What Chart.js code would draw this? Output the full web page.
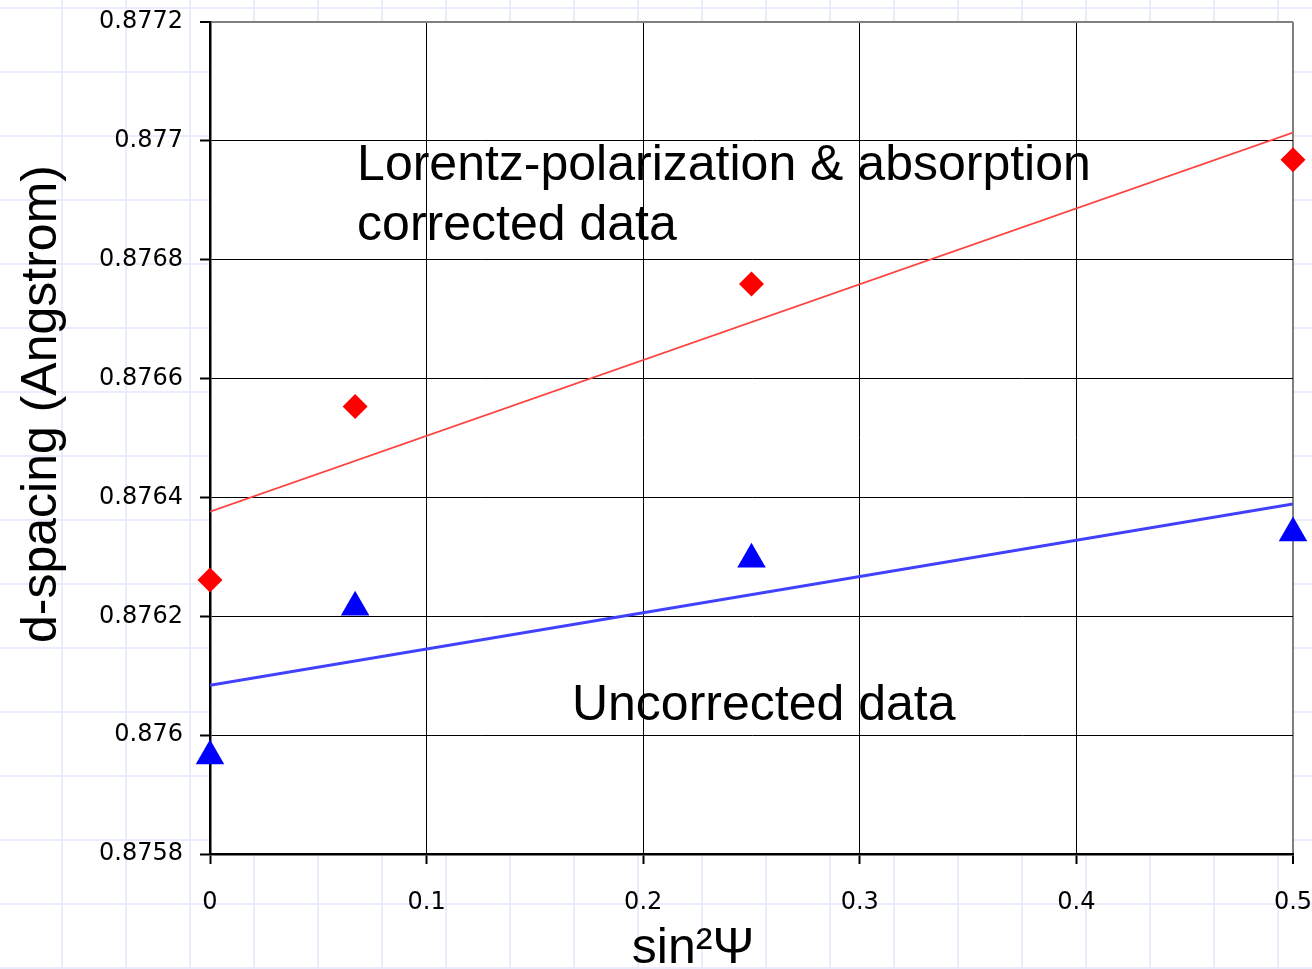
<!DOCTYPE html>
<html>
<head>
<meta charset="utf-8">
<title>d-spacing vs sin²Ψ</title>
<script src="https://cdn.jsdelivr.net/npm/chart.js@4.4.1/dist/chart.umd.min.js"></script>
<style>
  html, body { margin: 0; padding: 0; background: #fff; }
  canvas { display: block; }
</style>
</head>
<body>
<canvas id="chart" width="1312" height="969"></canvas>
<script>
// tilt positions, sin^2(psi) for psi = 0, 15, 30, 45 deg
const sin2psi = [0, 0.067, 0.25, 0.5];

// measured d-spacing (Angstrom)
const correctedD = [0.876261, 0.876553, 0.876759, 0.876968];
const uncorrectedD = [0.875965, 0.876215, 0.876296, 0.876340];

// straight-line fits, values at the two ends of the axis
const fitX = [0, 0.5];
const correctedFit = [0.876376, 0.877014];
const uncorrectedFit = [0.876084, 0.876389];

const xTickLabels = ['0', '0.1', '0.2', '0.3', '0.4', '0.5'];
const yTickLabels = ['0.8758', '0.876', '0.8762', '0.8764', '0.8766', '0.8768', '0.877', '0.8772'];

const toPoints = (xs, ys) => xs.map((x, i) => ({ x: x, y: ys[i] }));

const sansFont = '"Liberation Sans", Arial, sans-serif';
const tickFont = { family: '"DejaVu Sans", sans-serif', size: 24 };

// graph-paper backdrop behind the plot, plot area itself stays white
const paperBackground = {
  id: 'paperBackground',
  beforeDraw(chart) {
    const ctx = chart.ctx;
    const { width, height, chartArea } = chart;
    ctx.save();
    ctx.fillStyle = '#ffffff';
    ctx.fillRect(0, 0, width, height);
    ctx.strokeStyle = '#e8edfb';
    ctx.lineWidth = 2;
    ctx.beginPath();
    for (let x = -2; x < width; x += 64) {
      ctx.moveTo(x, 0);
      ctx.lineTo(x, height);
    }
    for (let y = 8; y < height; y += 64) {
      ctx.moveTo(0, y);
      ctx.lineTo(width, y);
    }
    ctx.stroke();
    ctx.fillStyle = '#ffffff';
    ctx.fillRect(chartArea.left, chartArea.top,
      chartArea.right - chartArea.left, chartArea.bottom - chartArea.top);
    ctx.restore();
  }
};

// series notes inside the plot + axis titles
const chartText = {
  id: 'chartText',
  afterDraw(chart, args, opts) {
    const ctx = chart.ctx;
    const xs = chart.scales.x;
    const ys = chart.scales.y;
    ctx.save();
    ctx.fillStyle = '#000';
    ctx.textBaseline = 'alphabetic';
    ctx.textAlign = 'left';
    ctx.font = '50px ' + sansFont;
    opts.notes.forEach(n => {
      ctx.fillText(n.text, xs.getPixelForValue(n.x), ys.getPixelForValue(n.y));
    });

    ctx.textAlign = 'center';
    ctx.fillText('sin²Ψ', 693, 963);

    ctx.translate(56, 404);
    ctx.rotate(-Math.PI / 2);
    ctx.fillText('d-spacing (Angstrom)', 0, 0);
    ctx.restore();
  }
};

new Chart(document.getElementById('chart'), {
  type: 'scatter',
  data: {
    datasets: [
      {
        label: 'Lorentz-polarization & absorption corrected',
        data: toPoints(sin2psi, correctedD),
        pointStyle: 'rectRot',
        pointRadius: 12.5,
        backgroundColor: '#ff0000',
        borderColor: '#ff0000',
        borderWidth: 0,
        clip: false
      },
      {
        label: 'Uncorrected',
        data: toPoints(sin2psi, uncorrectedD),
        pointStyle: 'triangle',
        pointRadius: 16.5,
        backgroundColor: '#0000ff',
        borderColor: '#0000ff',
        borderWidth: 0,
        clip: false
      },
      {
        label: 'Corrected fit',
        data: toPoints(fitX, correctedFit),
        showLine: true,
        borderColor: '#ff4040',
        borderWidth: 1.6,
        pointRadius: 0
      },
      {
        label: 'Uncorrected fit',
        data: toPoints(fitX, uncorrectedFit),
        showLine: true,
        borderColor: '#4040ff',
        borderWidth: 3,
        pointRadius: 0
      }
    ]
  },
  options: {
    responsive: false,
    animation: false,
    events: [],
    layout: {
      padding: { top: 22, right: 19, bottom: 0, left: 0 }
    },
    plugins: {
      legend: { display: false },
      tooltip: { enabled: false },
      chartText: {
        notes: [
          { text: 'Lorentz-polarization & absorption', x: 0.0679, y: 0.876934 },
          { text: 'corrected data', x: 0.0679, y: 0.876833 },
          { text: 'Uncorrected data', x: 0.1671, y: 0.8760255 }
        ]
      }
    },
    scales: {
      x: {
        type: 'linear',
        min: 0,
        max: 0.5,
        afterFit(scale) {
          scale.height = 115;
          scale.paddingLeft = 0;
          scale.paddingRight = 0;
        },
        ticks: {
          stepSize: 0.1,
          autoSkip: false,
          maxRotation: 0,
          color: '#000',
          font: tickFont,
          padding: 24,
          callback: (v, i) => xTickLabels[i]
        },
        grid: {
          color: c => c.index === xTickLabels.length - 1 ? '#808080' : '#000',
          lineWidth: c => c.index === xTickLabels.length - 1 ? 2 : 1,
          tickLength: 10,
          tickColor: '#000',
          tickWidth: 2
        },
        border: { color: '#000', width: 2.5 }
      },
      y: {
        type: 'linear',
        min: 0.8758,
        max: 0.8772,
        afterFit(scale) {
          scale.width = 210;
          scale.paddingTop = 0;
          scale.paddingBottom = 0;
        },
        ticks: {
          stepSize: 0.0002,
          autoSkip: false,
          color: '#000',
          font: tickFont,
          padding: 17,
          callback: (v, i) => yTickLabels[i]
        },
        grid: {
          color: c => c.index === yTickLabels.length - 1 ? '#808080' : '#000',
          lineWidth: c => c.index === yTickLabels.length - 1 ? 2 : 1,
          tickLength: 10,
          tickColor: '#000',
          tickWidth: 2
        },
        border: { color: '#000', width: 2.5 }
      }
    }
  },
  plugins: [paperBackground, chartText]
});
</script>
</body>
</html>
